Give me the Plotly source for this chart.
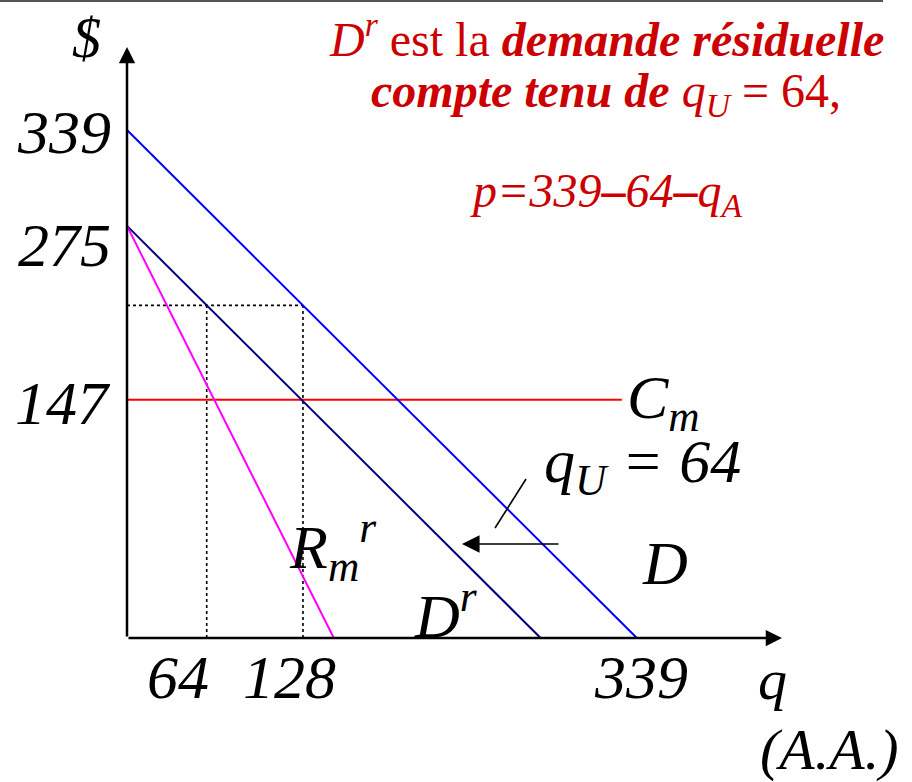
import plotly.graph_objects as go

# ---- data (in chart units) ----
D_q = [0, 339]; D_p = [339, 0]           # demande D
Dr_q = [0, 275]; Dr_p = [275, 0]         # demande résiduelle D^r
Rm_q = [0, 137.5]; Rm_p = [275, 0]       # recette marginale R_m^r
Cm_q = [0, 329]; Cm_p = [159, 159]       # coût marginal C_m
price_level = 222
q_A_star = 53
q_total = 117

ytick_vals = [338, 262, 157]
ytick_text = ["339", "275", "147"]
xtick_vals = [34, 108, 342]
xtick_text = ["64", "128", "339"]

# shift arrow (q_U = 64) and slash marker
shift_q = [287.9, 222.7]; shift_p = [62.7, 62.7]
slash_q = [244.7, 265.3]; slash_p = [73.4, 106.1]

# axis extents
x_axis_end = 435.5
y_axis_end = 394.4

# ---- page geometry ----
W, H = 912, 782
PX_Q, PX_P = 1.504, 1.4985
X0, Y0 = 127, 638
xr = [-X0 / PX_Q, (W - X0) / PX_Q]
yr = [(Y0 - H) / PX_P, Y0 / PX_P]

FONT = "Liberation Serif, Times New Roman, serif"
RED = "#CC0000"

fig = go.Figure()

def line(q, p, color, width=2, dash="solid"):
    fig.add_trace(go.Scatter(x=q, y=p, mode="lines",
                             line=dict(color=color, width=width, dash=dash),
                             hoverinfo="skip", showlegend=False))

# dotted guides
line([0, q_total], [price_level, price_level], "black", 1.6, "dot")
line([q_A_star, q_A_star], [0, price_level], "black", 1.6, "dot")
line([q_total, q_total], [0, price_level], "black", 1.6, "dot")
# curves
line(Cm_q, Cm_p, "#FF0000", 2)
line(D_q, D_p, "#0000FF", 2)
line(Dr_q, Dr_p, "#000080", 2)
line(Rm_q, Rm_p, "#FF00FF", 2)
line(slash_q, slash_p, "black", 1.6)

ann = []
# axes with arrowheads
ann.append(dict(x=x_axis_end, y=0, ax=0, ay=0, xref="x", yref="y", axref="x", ayref="y",
                showarrow=True, arrowhead=2, arrowsize=1.3, arrowwidth=2.5, arrowcolor="black", text=""))
ann.append(dict(x=0, y=y_axis_end, ax=0, ay=0, xref="x", yref="y", axref="x", ayref="y",
                showarrow=True, arrowhead=2, arrowsize=1.3, arrowwidth=2.5, arrowcolor="black", text=""))
# shift arrow
ann.append(dict(x=shift_q[1], y=shift_p[1], ax=shift_q[0], ay=shift_p[0], xref="x", yref="y",
                axref="x", ayref="y", showarrow=True, arrowhead=2, arrowsize=2.2, arrowwidth=1.6,
                arrowcolor="black", text=""))

def txt(x, y, s, size, color="black", xanchor="center", style="italic"):
    ann.append(dict(x=x, y=y, xref="x", yref="y", text=s, showarrow=False,
                    xanchor=xanchor, yanchor="middle",
                    font=dict(family=FONT, size=size, color=color, style=style)))

# tick labels
for v, t in zip(ytick_vals, ytick_text):
    txt(-9.3, v, t, 62, xanchor="right")
for v, t in zip(xtick_vals, xtick_text):
    txt(v, -26, t, 62)

# axis titles
txt(-26.6, 401, "$", 58)
txt(428.9, -28, "q", 58)
txt(467.4, -74.7, "(A.A.)", 58)

# curve labels
txt(357, 157.5, "C<sub>m</sub>", 62)
txt(343, 114.8, "q<sub>U</sub> = 64", 62)
txt(357.7, 50, "D", 62)
txt(212, 18, "D<sup>r</sup>", 62)
txt(137, 61, "R<sub>m</sub><sup>r</sup>", 62)

# top-right explanatory text
txt(318.5, 401.5, "<i>D</i><sup><i>r</i></sup> est la <b><i>demande résiduelle</i></b>", 48, RED, style="normal")
txt(318.5, 363, "<b><i>compte tenu de</i></b> <i>q</i><sub><i>U</i></sub> = 64,", 48, RED, style="normal")
txt(318.5, 296.5, "<i>p=339</i><b>–</b><i>64</i><b>–</b><i>q</i><sub><i>A</i></sub>", 48, RED, style="normal")

fig.update_layout(
    width=W, height=H,
    margin=dict(l=0, r=0, t=0, b=0),
    paper_bgcolor="white", plot_bgcolor="white",
    xaxis=dict(range=xr, visible=False, fixedrange=True),
    yaxis=dict(range=yr, visible=False, fixedrange=True),
    annotations=ann,
    shapes=[dict(type="line", xref="paper", yref="paper", x0=0, x1=883 / W, y0=1 - 1 / H, y1=1 - 1 / H,
                 line=dict(color="#555555", width=2))],
    showlegend=False,
)

fig.write_html("out.html", config={"displayModeBar": False},
               post_script="document.body.style.margin='0';document.body.style.overflow='hidden';")
